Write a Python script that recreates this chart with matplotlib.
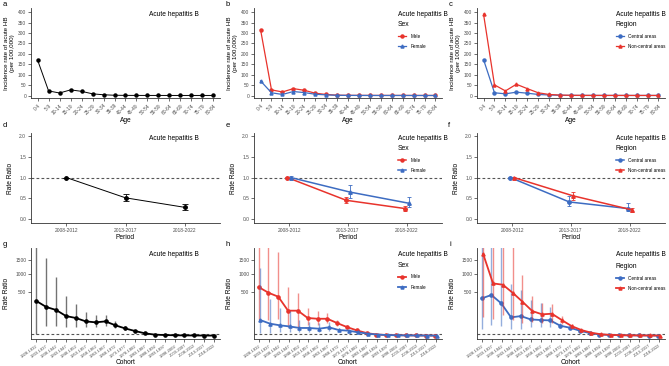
import numpy as np
import matplotlib
matplotlib.use('Agg')
import matplotlib.pyplot as plt
from matplotlib.lines import Line2D

plt.rcParams['font.family'] = ['Liberation Sans', 'DejaVu Sans']

#-----------------data-----------------#

ages = ['0-4', '5-9', '10-14', '15-19', '20-24', '25-29', '30-34', '35-39', '40-44',
        '45-49', '50-54', '55-59', '60-64', '65-69', '70-74', '75-79', '80-84']
inc_all = [170, 22, 12, 27, 20, 8, 3.5, 1.2, 0.6, 0.4, 0.3, 0.3, 0.2, 0.2, 0.2, 0.2, 0.2]
inc_male = [316, 27, 17, 33, 25, 11, 5, 1.5, 0.8, 0.5, 0.4, 0.3, 0.3, 0.3, 0.2, 0.2, 0.2]
inc_female = [70, 13, 5, 19, 14, 6, 3, 1, 0.5, 0.3, 0.2, 0.2, 0.2, 0.2, 0.1, 0.1, 0.1]
inc_central = [172, 13, 8, 16, 11, 5, 2.5, 1, 0.5, 0.3, 0.2, 0.2, 0.2, 0.2, 0.1, 0.1, 0.1]
inc_noncentral = [390, 51, 22, 54, 33, 13, 5, 2, 1, 0.6, 0.5, 0.4, 0.4, 0.3, 0.3, 0.3, 0.3]

periods = ['2008-2012', '2013-2017', '2018-2022']
rr_p_all = [1.0, 0.51, 0.28]
lo_p_all = [1.0, 0.43, 0.22]
hi_p_all = [1.0, 0.61, 0.35]
rr_p_male = [1.0, 0.45, 0.25]
lo_p_male = [0.98, 0.38, 0.19]
hi_p_male = [1.02, 0.54, 0.30]
rr_p_female = [1.0, 0.65, 0.38]
lo_p_female = [0.97, 0.51, 0.28]
hi_p_female = [1.04, 0.81, 0.52]
rr_p_central = [1.0, 0.41, 0.25]
lo_p_central = [0.98, 0.30, 0.19]
hi_p_central = [1.02, 0.56, 0.38]
rr_p_noncentral = [1.0, 0.56, 0.22]
lo_p_noncentral = [0.98, 0.46, 0.17]
hi_p_noncentral = [1.02, 0.66, 0.27]

cohorts = ['1928-1932', '1933-1937', '1938-1942', '1943-1947', '1948-1952', '1953-1957',
           '1958-1962', '1963-1967', '1968-1972', '1973-1977', '1978-1982', '1983-1987',
           '1988-1992', '1993-1997', '1998-2002', '2003-2007', '2008-2012', '2013-2017',
           '2018-2022']
rr_c_all = [320, 220, 177, 104, 85, 56, 49, 56, 30, 15, 6.5, 1.9, 0.5, 0.25, 0.15, 0.1, 0.08, 0.06, 0.05]
lo_c_all = [1.5, 28, 28, 23, 23, 20, 20, 24, 15, 8, 4.3, 1.2, 0.35, 0.17, 0.1, 0.07, 0.05, 0.04, 0.03]
hi_c_all = [2500, 1575, 900, 418, 268, 150, 112, 112, 59, 24, 9.5, 2.8, 0.7, 0.35, 0.2, 0.14, 0.11, 0.09, 0.08]
rr_c_male = [627, 490, 404, 168, 168, 85, 78, 78, 44, 21, 8.4, 2.3, 0.6, 0.3, 0.18, 0.12, 0.09, 0.07, 0.06]
lo_c_male = [67, 67, 78, 20, 20, 30, 32, 42, 26, 14, 5.8, 1.6, 0.4, 0.2, 0.12, 0.08, 0.06, 0.05, 0.04]
hi_c_male = [2500, 2500, 1858, 636, 475, 210, 168, 142, 67, 30, 12, 3.3, 0.9, 0.45, 0.27, 0.18, 0.13, 0.1, 0.09]
rr_c_female = [67, 40, 30, 24, 17, 17, 14, 20, 9.4, 7.4, 3.5, 1.4, 0.5, 0.25, 0.15, 0.1, 0.08, 0.06, 0.05]
lo_c_female = [2.9, 2.9, 4, 3.5, 5, 4, 4, 5.7, 5.5, 4.8, 2.3, 0.9, 0.33, 0.16, 0.1, 0.07, 0.05, 0.04, 0.03]
hi_c_female = [1196, 357, 205, 163, 67, 54, 42, 49, 16, 11, 5, 2, 0.75, 0.38, 0.23, 0.15, 0.12, 0.09, 0.08]
rr_c_central = [370, 440, 279, 91, 104, 72, 67, 64, 28, 18, 7.4, 2.3, 0.6, 0.3, 0.18, 0.12, 0.09, 0.07, 0.05]
lo_c_central = [11.6, 32, 26, 12, 14, 20, 20, 20, 17, 12, 5, 1.6, 0.4, 0.2, 0.12, 0.08, 0.06, 0.05, 0.03]
hi_c_central = [2500, 2500, 2500, 697, 553, 338, 279, 225, 46, 26, 10, 3.2, 0.9, 0.45, 0.27, 0.18, 0.13, 0.1, 0.08]
rr_c_noncentral = [1756, 724, 688, 490, 308, 163, 123, 130, 67, 26, 9.4, 2.9, 0.8, 0.35, 0.2, 0.13, 0.1, 0.08, 0.06]
lo_c_noncentral = [98, 72, 119, 67, 42, 54, 42, 46, 38, 17, 6.5, 2, 0.55, 0.24, 0.13, 0.09, 0.07, 0.05, 0.04]
hi_c_noncentral = [2500, 2500, 2500, 2500, 972, 425, 279, 268, 104, 38, 13, 4, 1.1, 0.5, 0.3, 0.2, 0.15, 0.12, 0.09]

RED = '#E8332C'
BLUE = '#3D6CC2'
W, H = 669, 366
TITLE = 'Acute hepatitis B'
TICK_FS = 3.5

fig = plt.figure(figsize=(W / 100, H / 100), dpi=100)


def px(x, y):
    return x / W, 1 - y / H


def make_ax(left, top, right, bottom):
    ax = fig.add_axes([left / W, 1 - bottom / H, (right - left) / W, (bottom - top) / H])
    for s in ['top', 'right']:
        ax.spines[s].set_visible(False)
    for s in ['left', 'bottom']:
        ax.spines[s].set_linewidth(0.6)
        ax.spines[s].set_color('#333333')
    ax.tick_params(length=2, width=0.5, labelsize=TICK_FS, pad=1.5, color='#333333', labelcolor='#4d4d4d')
    return ax


def legend_at(ax, handles, labels, title, x, y):
    leg = ax.legend(handles, labels, title=title, loc='upper left', bbox_to_anchor=px(x, y),
                    bbox_transform=fig.transFigure, frameon=False, fontsize=3.3,
                    title_fontsize=4.9, handlelength=1.8, handletextpad=0.9,
                    labelspacing=1.2, borderpad=0, borderaxespad=0)
    leg._legend_box.align = 'left'


def fwd(v):
    v = np.asarray(v, dtype=float)
    return np.sign(v) * np.sqrt(np.abs(v))


def inv(v):
    v = np.asarray(v, dtype=float)
    return np.sign(v) * v ** 2


cols = [(31, 220), (254, 442), (477, 665)]
rows = [(8, 98), (133, 223), (248, 339)]
letters = ['a', 'b', 'c', 'd', 'e', 'f', 'g', 'h', 'i']
title_x = [149, 398, 616]

#-----------------top row: incidence by age-----------------#

xa = np.arange(len(ages))
top_series = [
    [(inc_all, 'black', 'o')],
    [(inc_male, RED, 'o'), (inc_female, BLUE, '^')],
    [(inc_central, BLUE, 'o'), (inc_noncentral, RED, '^')],
]
for j in range(3):
    ax = make_ax(cols[j][0], rows[0][0], cols[j][1], rows[0][1])
    for vals, c, m in top_series[j]:
        ax.plot(xa, vals, color=c, lw=0.9 if j else 0.7, marker=m, ms=2.2)
    ax.set_xlim(-0.6, len(ages) - 0.4)
    ax.set_ylim(-12, 420)
    ax.set_yticks(np.arange(0, 401, 50))
    ax.set_xticks(xa)
    ax.set_xticklabels(ages, rotation=45, ha='right', rotation_mode='anchor')
    ax.set_xlabel('Age', fontsize=4.8, labelpad=1)
    ax.set_ylabel('Incidence rate of acute HB\n(per 100,000)', fontsize=4.5, labelpad=2)
    fig.text(*px(title_x[j], 14), TITLE, fontsize=4.8, va='center', ha='left')
    if j == 1:
        legend_at(ax, [Line2D([], [], color=RED, marker='o', ms=2.2, lw=0.9),
                       Line2D([], [], color=BLUE, marker='^', ms=2.2, lw=0.9)],
                  ['Male', 'Female'], 'Sex', 398, 21)
    if j == 2:
        legend_at(ax, [Line2D([], [], color=BLUE, marker='o', ms=2.2, lw=0.9),
                       Line2D([], [], color=RED, marker='^', ms=2.2, lw=0.9)],
                  ['Central areas', 'Non-central areas'], 'Region', 616, 21)

#-----------------middle row: period effect-----------------#

xp = np.arange(len(periods))
mid_series = [
    [(rr_p_all, lo_p_all, hi_p_all, 'black', 'o', 0.0)],
    [(rr_p_male, lo_p_male, hi_p_male, RED, 'o', -0.03),
     (rr_p_female, lo_p_female, hi_p_female, BLUE, '^', 0.03)],
    [(rr_p_central, lo_p_central, hi_p_central, BLUE, 'o', -0.03),
     (rr_p_noncentral, lo_p_noncentral, hi_p_noncentral, RED, '^', 0.03)],
]
for j in range(3):
    ax = make_ax(cols[j][0], rows[1][0], cols[j][1], rows[1][1])
    ax.axhline(1.0, color='#555555', lw=0.8, ls=(0, (2.5, 2)), zorder=0)
    for rr, lo, hi, c, m, dx in mid_series[j]:
        rr = np.array(rr)
        yerr = [rr - np.array(lo), np.array(hi) - rr]
        ax.errorbar(xp + dx, rr, yerr=yerr, color=c, lw=0.7 if j == 0 else 1.1,
                    elinewidth=0.6, capsize=2.5 if j == 0 else 1.5, capthick=0.6,
                    marker=m, ms=2.5)
    ax.set_xlim(-0.6, 2.6)
    ax.set_ylim(-0.1, 2.08)
    ax.set_yticks([0, 0.5, 1.0, 1.5, 2.0])
    ax.set_yticklabels(['0.0', '0.5', '1.0', '1.5', '2.0'])
    ax.set_xticks(xp)
    ax.set_xticklabels(periods)
    ax.set_xlabel('Period', fontsize=4.8, labelpad=0.5)
    ax.set_ylabel('Rate Ratio', fontsize=4.8, labelpad=4)
    fig.text(*px(title_x[j], 138), TITLE, fontsize=4.8, va='center', ha='left')
    if j == 1:
        legend_at(ax, [Line2D([], [], color=RED, marker='o', ms=2.2, lw=1.1),
                       Line2D([], [], color=BLUE, marker='^', ms=2.2, lw=1.1)],
                  ['Male', 'Female'], 'Sex', 398, 145)
    if j == 2:
        legend_at(ax, [Line2D([], [], color=BLUE, marker='o', ms=2.2, lw=1.1),
                       Line2D([], [], color=RED, marker='^', ms=2.2, lw=1.1)],
                  ['Central areas', 'Non-central areas'], 'Region', 616, 145)

#-----------------bottom row: cohort effect-----------------#

xc = np.arange(len(cohorts))
bot_series = [
    [(rr_c_all, lo_c_all, hi_c_all, 'black', 'o', 0.0)],
    [(rr_c_male, lo_c_male, hi_c_male, RED, 'o', -0.08),
     (rr_c_female, lo_c_female, hi_c_female, BLUE, '^', 0.08)],
    [(rr_c_central, lo_c_central, hi_c_central, BLUE, 'o', -0.08),
     (rr_c_noncentral, lo_c_noncentral, hi_c_noncentral, RED, '^', 0.08)],
]
for j in range(3):
    ax = make_ax(cols[j][0], rows[2][0], cols[j][1], rows[2][1])
    ax.set_yscale('function', functions=(fwd, inv))
    ax.axhline(1.0, color='#555555', lw=0.8, ls=(0, (2.5, 2)), zorder=0)
    for rr, lo, hi, c, m, dx in bot_series[j]:
        ax.vlines(xc + dx, lo, hi, color=c, lw=1.0, alpha=0.55)
        ax.plot(xc + dx, rr, color=c, lw=1.3, marker=m, ms=2.3)
    ax.set_xlim(-0.55, len(cohorts) - 0.4)
    ax.set_ylim(-2.3, 2025)
    ax.set_yticks([500, 1000, 1500])
    ax.set_yticklabels(['500', '1000', '1500'])
    ax.minorticks_off()
    ax.set_xticks(xc)
    ax.set_xticklabels(cohorts, rotation=35, ha='right', rotation_mode='anchor', fontsize=3.0)
    ax.set_xlabel('Cohort', fontsize=4.8, labelpad=0.5)
    ax.set_ylabel('Rate Ratio', fontsize=4.8, labelpad=4)
    fig.text(*px(title_x[j], 255), TITLE, fontsize=4.8, va='center', ha='left')
    if j == 1:
        legend_at(ax, [Line2D([], [], color=RED, marker='o', ms=2.2, lw=1.3),
                       Line2D([], [], color=BLUE, marker='^', ms=2.2, lw=1.3)],
                  ['Male', 'Female'], 'Sex', 398, 262)
    if j == 2:
        legend_at(ax, [Line2D([], [], color=BLUE, marker='o', ms=2.2, lw=1.3),
                       Line2D([], [], color=RED, marker='^', ms=2.2, lw=1.3)],
                  ['Central areas', 'Non-central areas'], 'Region', 616, 263)

#-----------------panel letters-----------------#

letter_pos = [(3, 4), (226, 4), (449, 4), (3, 125), (226, 125), (448, 125),
              (3, 245), (226, 245), (449, 245)]
for lab, (x, y) in zip(letters, letter_pos):
    fig.text(*px(x, y), lab, fontsize=5.5, va='center', ha='left')

fig.savefig('out.png', dpi=100)
